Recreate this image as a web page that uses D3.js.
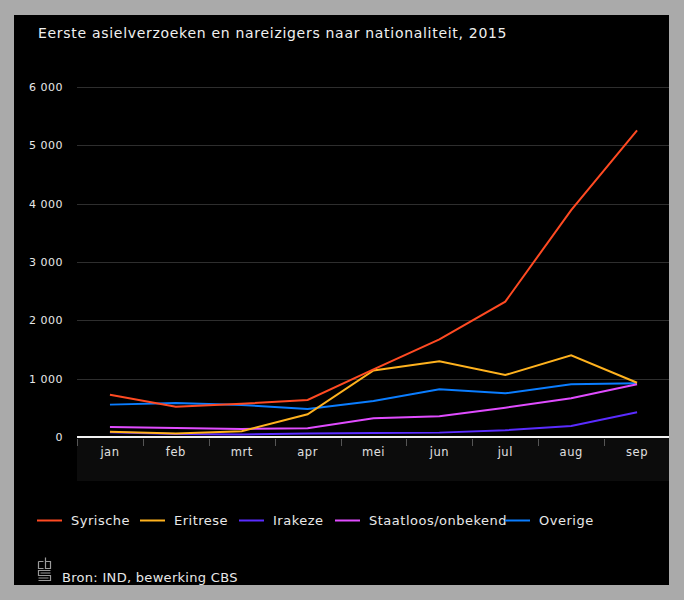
<!DOCTYPE html>
<html><head><meta charset="utf-8">
<script src="https://cdn.jsdelivr.net/npm/d3@7"></script>
<style>
html,body{margin:0;padding:0;background:#aaaaaa;}
svg{display:block;}
text{font-family:"DejaVu Sans",Verdana,sans-serif;}
</style></head>
<body>
<script>
const months = ["jan","feb","mrt","apr","mei","jun","jul","aug","sep"];
const seriesNames = ["Syrische","Eritrese","Irakeze","Staatloos/onbekend","Overige"];
const seriesColors = ["#ff4a22","#ffb21e","#5a2cff","#e04cff","#0a7dff"];
const syrische = [725, 520, 570, 635, 1160, 1675, 2320, 3890, 5255];
const eritrese = [90, 60, 100, 390, 1140, 1297, 1063, 1400, 930];
const irakeze = [80, 50, 45, 60, 70, 75, 115, 190, 423];
const staatloos = [170, 155, 137, 150, 320, 355, 503, 663, 905];
const overige = [555, 583, 550, 480, 617, 817, 749, 903, 920];
const yTicks = [0, 1000, 2000, 3000, 4000, 5000, 6000];
const title = "Eerste asielverzoeken en nareizigers naar nationaliteit, 2015";
const source = "Bron: IND, bewerking CBS";

const allSeries = [syrische, eritrese, irakeze, staatloos, overige];

const W = 684, H = 600;
const svg = d3.select("body").append("svg").attr("width", W).attr("height", H);

// panel
svg.append("rect").attr("x", 14).attr("y", 15).attr("width", 655).attr("height", 570).attr("fill", "#000");

svg.append("text").attr("x", 38).attr("y", 38).attr("fill", "#f0f0f0")
  .attr("font-size", 14).attr("letter-spacing", 0.7).text(title);

const x = d3.scaleBand().domain(months).range([77, 670]);
const y = d3.scaleLinear().domain([0, 6000]).range([437, 87]);

// x band background
svg.append("rect").attr("x", 77).attr("y", 438).attr("width", 592).attr("height", 43).attr("fill", "#0c0c0c");

// gridlines
svg.append("g").selectAll("line").data(yTicks.filter(d => d > 0)).join("line")
  .attr("x1", 77).attr("x2", 669)
  .attr("y1", d => Math.round(y(d)) + 0.5).attr("y2", d => Math.round(y(d)) + 0.5)
  .attr("stroke", "#2e2e2e").attr("stroke-width", 1);

// y labels
const fmt = d => d3.format(",")(d).replace(/,/g, " ");
svg.append("g").selectAll("text").data(yTicks).join("text")
  .attr("x", 63).attr("y", d => y(d) + 4)
  .attr("text-anchor", "end").attr("fill", "#e8e8e8").attr("font-size", 11).attr("letter-spacing", 0.5)
  .text(d => fmt(d));

// x tick marks
svg.append("g").selectAll("line").data(months).join("line")
  .attr("x1", d => Math.round(x(d)) + 0.5).attr("x2", d => Math.round(x(d)) + 0.5)
  .attr("y1", 439).attr("y2", 446)
  .attr("stroke", "#555").attr("stroke-width", 1);

// x labels
svg.append("g").selectAll("text").data(months).join("text")
  .attr("x", d => x(d) + x.bandwidth() / 2).attr("y", 456)
  .attr("text-anchor", "middle").attr("fill", "#e0e0e0").attr("font-size", 11.5).attr("letter-spacing", 0.5)
  .text(d => d);

// lines
const line = d3.line().x((d, i) => x(months[i]) + x.bandwidth() / 2).y(d => y(d));
svg.append("g").selectAll("path").data(allSeries.map((v, i) => ({v, i})).reverse()).join("path")
  .attr("d", d => line(d.v)).attr("fill", "none")
  .attr("stroke", d => seriesColors[d.i]).attr("stroke-width", 2)
  .attr("stroke-linejoin", "miter");

// axis line
svg.append("line").attr("x1", 77).attr("x2", 669).attr("y1", 437).attr("y2", 437)
  .attr("stroke", "#f2f2f2").attr("stroke-width", 2);

// legend
const legendX = [37, 140, 239, 335, 505];
const lg = svg.append("g").selectAll("g").data(seriesNames).join("g")
  .attr("transform", (d, i) => `translate(${legendX[i]},520)`);
lg.append("line").attr("x1", 0).attr("x2", 25).attr("y1", 0.5).attr("y2", 0.5)
  .attr("stroke", (d, i) => seriesColors[i]).attr("stroke-width", 2);
lg.append("text").attr("x", 34).attr("y", 5).attr("fill", "#e8e8e8").attr("font-size", 13)
  .attr("letter-spacing", 0.5).text(d => d);

// cbs logo
const logo = svg.append("g").attr("transform", "translate(38,557)").attr("fill", "none")
  .attr("stroke", "#9a9a9a").attr("stroke-width", 1.2);
logo.append("path").attr("d", "M0.5,4.5 H5.5 M0.5,4.5 V11.5 H5.5");
logo.append("path").attr("d", "M7.5,0.5 V11.5 H12.5 V4.5 H7.5");
logo.append("path").attr("d", "M12.5,13.5 H0.5 V18.5 H12.5 V23.5 H0.5");
logo.append("path").attr("d", "M2.5,16 H12.5 M0.5,21 H10.5");
svg.append("text").attr("x", 62).attr("y", 582).attr("fill", "#e8e8e8").attr("font-size", 13)
  .attr("letter-spacing", 0.3).text(source);
</script>
</body></html>
